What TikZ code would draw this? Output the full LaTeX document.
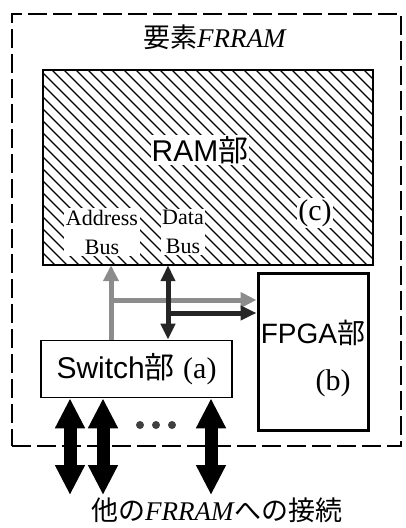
\documentclass[tikz,border=0pt]{standalone}
\usepackage{fontspec}
\setmainfont{Liberation Serif}
\setsansfont{Liberation Sans}
\newfontfamily\cjk{Noto Sans CJK JP}
\usetikzlibrary{arrows.meta}
\begin{document}
\begin{tikzpicture}[x=1pt,y=-1pt,
  outerframe/.style={draw, rectangle, inner sep=0pt, dash pattern=on 19pt off 6pt, line width=1.3pt},
  blockbox/.style={draw, rectangle, inner sep=0pt},
  hatchline/.style={line width=1.4pt},
  sanslabel/.style={font=\sffamily\fontsize{30}{32}\selectfont},
  seriflabel/.style={font=\rmfamily\fontsize{30}{32}\selectfont},
  buslabel/.style={fill=white, inner sep=1.5pt, align=center, font=\rmfamily\fontsize{22}{29}\selectfont},
  titletext/.style={font=\rmfamily\fontsize{27}{30}\selectfont},
  addrarrow/.style={draw=black!45, line width=5pt},
  dataarrow/.style={draw=black!85, line width=5pt},
  gtip/.tip={Triangle[width=15pt,length=16pt]},
  dtip/.tip={Triangle[width=14pt,length=16pt]},
  etip/.tip={Triangle[width=28pt,length=30pt]},
  extarrow/.style={draw=black, line width=13pt, etip-etip},
  dotmark/.style={circle, fill=black!75, minimum size=8pt, inner sep=0pt},
]
\useasboundingbox (0,0) rectangle (405,528);

% outer dashed frame
\node[outerframe, minimum width=389pt, minimum height=432pt] (outer) at (206.5,230) {};
\node[titletext] (title) at (215,37) {{\cjk 要素}\textit{FRRAM}};

% RAM block with hatching
\node[blockbox, minimum width=330pt, minimum height=195pt] (ram) at (208,167.5) {};
\begin{scope}
  \clip (ram.south west) rectangle (ram.north east);
  \foreach \i in {-200,-188,...,380} \draw[hatchline] (\i,70) -- ++(200,200);
\end{scope}
\draw[line width=2pt] (ram.south west) rectangle (ram.north east);
\node[sanslabel, fill=white, inner sep=1pt] (ramlabel) at (200,150) {RAM{\cjk 部}};
\node[seriflabel, fill=white, inner sep=1pt] (clabel) at (315,213) {(c)};
\node[buslabel] (addr) at (102,232) {Address\\Bus};
\node[buslabel] (data) at (183,232) {Data\\Bus};

% FPGA block
\node[blockbox, line width=3pt, minimum width=110pt, minimum height=157pt] (fpga) at (313,351.5) {};
\node[sanslabel, font=\sffamily\fontsize{28}{30}\selectfont] (fpgalabel) at (313,333) {FPGA{\cjk 部}};
\node[seriflabel] (blabel) at (333,383) {(b)};

% Switch block
\node[blockbox, line width=1.6pt, minimum width=191pt, minimum height=57pt, sanslabel] (sw) at (136.5,369) {Switch{\cjk 部} {\rmfamily (a)}};

% bus connectors
\coordinate (ax) at (111,300);
\coordinate (dx) at (168,313);
\draw[addrarrow, -gtip] (sw.north -| ax) -- (ram.south -| ax);
\draw[addrarrow, -gtip] (ax) -- (fpga.west |- ax);
\draw[dataarrow, dtip-dtip] (ram.south -| dx) -- (sw.north -| dx);
\draw[dataarrow, -dtip] (dx) -- (fpga.west |- dx);

% external connections
\coordinate (e1) at (70,495);
\coordinate (e2) at (103,495);
\coordinate (e3) at (211,495);
\draw[extarrow] (sw.south -| e1) -- (e1);
\draw[extarrow] (sw.south -| e2) -- (e2);
\draw[extarrow] (sw.south -| e3) -- (e3);
\node[dotmark] (dot1) at (140,425) {};
\node[dotmark] (dot2) at (156,425) {};
\node[dotmark] (dot3) at (172,425) {};

\node[titletext] (caption) at (217,510) {{\cjk 他の}\textit{FRRAM}{\cjk への接続}};
\end{tikzpicture}
\end{document}
